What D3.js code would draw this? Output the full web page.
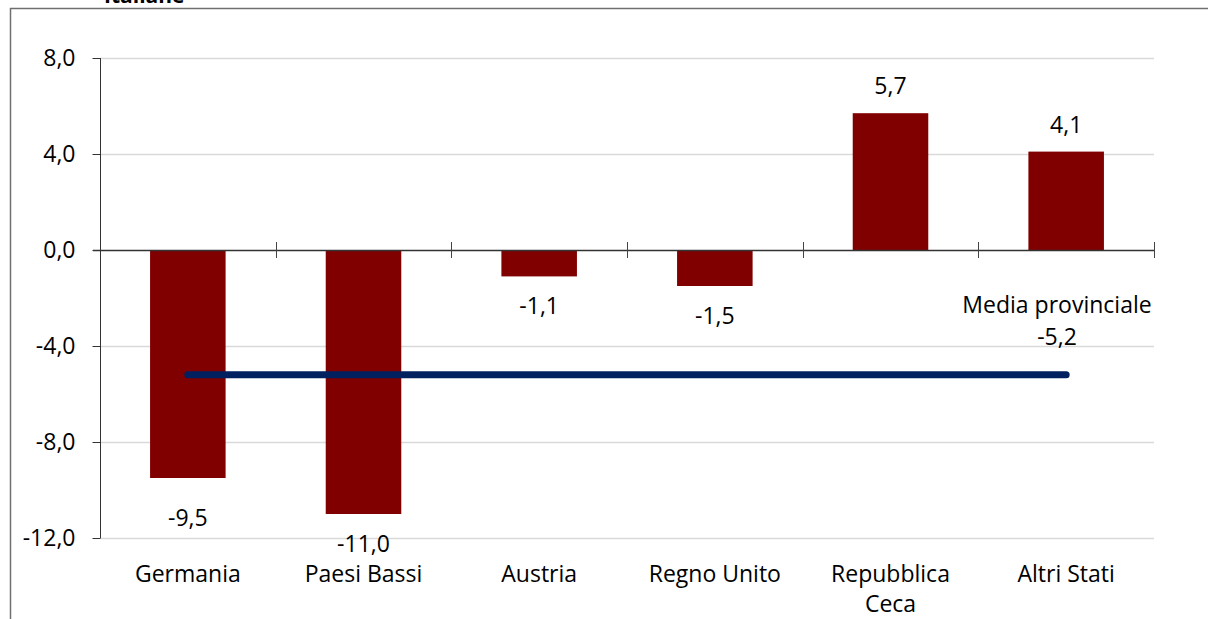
<!DOCTYPE html>
<html><head><meta charset="utf-8">
<script src="https://cdn.jsdelivr.net/npm/d3@7"></script>
<style>body{margin:0;background:#fff}svg{display:block}</style>
</head><body>
<script>
const categories = ["Germania","Paesi Bassi","Austria","Regno Unito","Repubblica\nCeca","Altri Stati"];
const values = [-9.5,-11.0,-1.1,-1.5,5.7,4.1];
const mediaValue = -5.2;
const mediaLabel = ["Media provinciale","-5,2"];
const yTicks = [8,4,0,-4,-8,-12];
const W=1208,H=619;
const font="'Open Sans', sans-serif";
const fs=23;
const fmt=d=>d3.format(".1f")(d).replace(".",",").replace("−","-");
const svg=d3.select("body").append("svg").attr("width",W).attr("height",H);
// frame
svg.append("line").attr("x1",10.5).attr("x2",10.5).attr("y1",8).attr("y2",H).attr("stroke","#6f6f6f").attr("stroke-width",1.5);
svg.append("line").attr("x1",10).attr("x2",W).attr("y1",8.5).attr("y2",8.5).attr("stroke","#6f6f6f").attr("stroke-width",1.5);
svg.append("text").attr("x",104).attr("y",3).attr("font-family",font).attr("font-weight","bold").attr("font-size",21).text("Italiane");
const x=d3.scaleBand().domain(categories).range([100,1154]).paddingInner(0.57).paddingOuter(0.285);
const xc=d3.scalePoint().domain(categories).range([100,1154]).padding(0.5);
const y=d3.scaleLinear().domain([-12,8]).range([538,58]);
// grid
svg.append("g").selectAll("line").data(yTicks.filter(d=>d!==0)).join("line")
 .attr("x1",100).attr("x2",1154).attr("y1",d=>y(d)+0.5).attr("y2",d=>y(d)+0.5).attr("stroke","#d9d9d9").attr("stroke-width",1.5);
// y axis
const ya=svg.append("g").attr("transform","translate(100.5,0)").call(d3.axisLeft(y).tickValues(yTicks).tickSize(8).tickPadding(17).tickFormat(fmt));
ya.select(".domain").attr("stroke","#333").attr("d","M0,"+y(8)+"V"+y(-12));
ya.selectAll(".tick line").attr("stroke","#333");
ya.selectAll("text").attr("font-family",font).attr("font-size",fs).attr("fill","#000");
// bars
svg.append("g").selectAll("rect").data(values).join("rect")
 .attr("x",(d,i)=>x(categories[i])).attr("width",x.bandwidth())
 .attr("y",d=>y(Math.max(0,d))).attr("height",d=>Math.abs(y(d)-y(0)))
 .attr("fill","#800000");
// x axis line with crossing ticks
const step=(1154-100)/categories.length;
svg.append("line").attr("x1",93).attr("x2",1154).attr("y1",y(0)+0.5).attr("y2",y(0)+0.5).attr("stroke","#333").attr("stroke-width",1.5);
svg.append("g").selectAll("line").data(d3.range(1,categories.length+1)).join("line")
 .attr("x1",i=>Math.round(100+i*step)+0.5).attr("x2",i=>Math.round(100+i*step)+0.5)
 .attr("y1",y(0)-8).attr("y2",y(0)+8).attr("stroke","#444");
// value labels (first label sits slightly lower in the original)
const nudge=(i)=>i===0?10:0;
svg.append("g").selectAll("text").data(values).join("text")
 .attr("x",(d,i)=>xc(categories[i])).attr("y",(d,i)=>d>=0?y(d)-19:y(d)+38+nudge(i))
 .attr("text-anchor","middle").attr("font-family",font).attr("font-size",fs)
 .text(fmt);
// category labels
svg.append("g").selectAll("text").data(categories).join("text")
 .attr("x",d=>xc(d)).attr("y",582).attr("text-anchor","middle").attr("font-family",font).attr("font-size",fs)
 .selectAll("tspan").data(d=>d.split("\n")).join("tspan").attr("x",function(){return d3.select(this.parentNode).attr("x");}).attr("dy",(d,i)=>i?30:0).text(d=>d);
// media line
svg.append("line").attr("x1",xc(categories[0])).attr("x2",xc(categories[5])).attr("y1",y(mediaValue)).attr("y2",y(mediaValue))
 .attr("stroke","#002060").attr("stroke-width",7).attr("stroke-linecap","round");
svg.append("g").selectAll("text").data(mediaLabel).join("text")
 .attr("x",1057).attr("y",(d,i)=>313+i*32).attr("text-anchor","middle").attr("font-family",font).attr("font-size",fs).text(d=>d);
</script>
</body></html>
